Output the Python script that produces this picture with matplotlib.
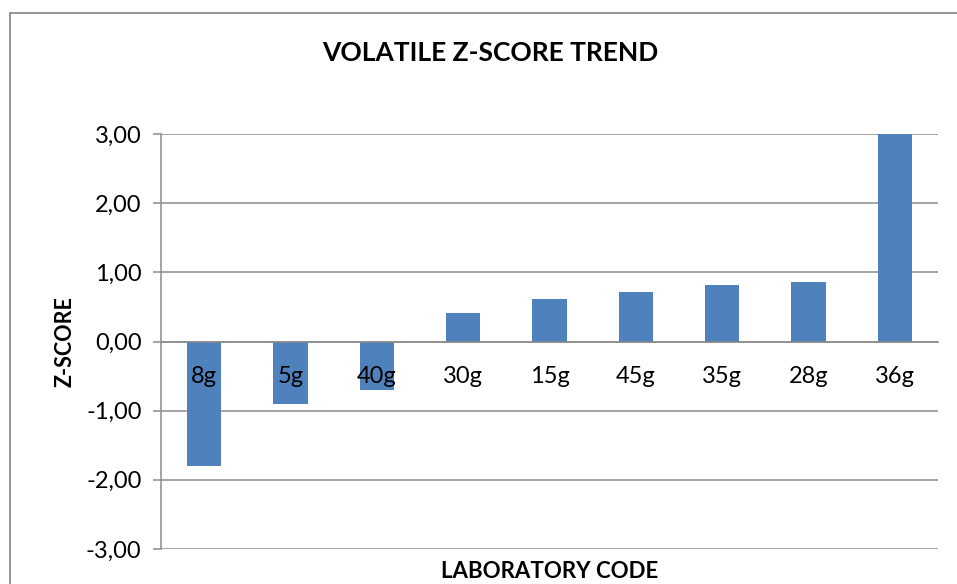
import matplotlib.pyplot as plt
from matplotlib.patches import Rectangle
from matplotlib.ticker import FuncFormatter

labs = ['8g', '5g', '40g', '30g', '15g', '45g', '35g', '28g', '36g']
zscore = [-1.80, -0.90, -0.70, 0.41, 0.61, 0.71, 0.82, 0.86, 3.00]
yticks = [-3, -2, -1, 0, 1, 2, 3]

plt.rcParams['font.family'] = ['Lato', 'DejaVu Sans']

fig = plt.figure(figsize=(9.57, 5.84), dpi=100)
ax = fig.add_axes([161 / 957, 35 / 584, 777 / 957, 415 / 584])

grey = '#8c8c8c'
x = list(range(len(labs)))
ax.bar(x, zscore, width=0.4, color='#4f81bd', zorder=2)

ax.set_ylim(-3, 3)
ax.set_xlim(-0.5, len(labs) - 0.5)
ax.set_yticks(yticks)
ax.yaxis.set_major_formatter(FuncFormatter(lambda v, p: f'{v:.2f}'.replace('.', ',')))
ax.grid(axis='y', color=grey, lw=1.1, zorder=0)
ax.set_axisbelow(True)

for s in ['top', 'right']:
    ax.spines[s].set_visible(False)
ax.spines['left'].set_color(grey)
ax.spines['left'].set_linewidth(1.1)
ax.spines['bottom'].set_position(('data', 0))
ax.spines['bottom'].set_color(grey)
ax.spines['bottom'].set_linewidth(1.1)
ax.spines['bottom'].set_zorder(3)

# category labels sit next to the zero axis, drawn over the bars
ax.set_xticks(x)
ax.set_xticklabels([])
ax.tick_params(axis='x', length=0)
for i, lab in zip(x, labs):
    ax.annotate(lab, (i, 0), xytext=(0, -25.5), textcoords='offset points',
                ha='center', va='center', fontsize=17, zorder=5)
ax.tick_params(axis='y', length=6, width=1.1, color=grey, pad=8, labelsize=17)

fig.text(490 / 957, 1 - 53 / 584, 'VOLATILE Z-SCORE TREND', ha='center', va='center',
         fontsize=19, fontweight='bold')
fig.text(65 / 957, 1 - 342 / 584, 'Z-SCORE', ha='center', va='center', rotation=90,
         fontsize=15.5, fontweight='bold')
fig.text(550 / 957, 1 - 572 / 584, 'LABORATORY CODE', ha='center', va='center',
         fontsize=16, fontweight='bold')

# outer chart frame, cut off at the right and bottom like the screenshot
fig.patches.append(Rectangle((9.5 / 957, -0.1), 1.2, 1.1 - 12.5 / 584,
                             transform=fig.transFigure, fill=False,
                             edgecolor=grey, lw=1.3))

fig.savefig('out.png', dpi=100)
